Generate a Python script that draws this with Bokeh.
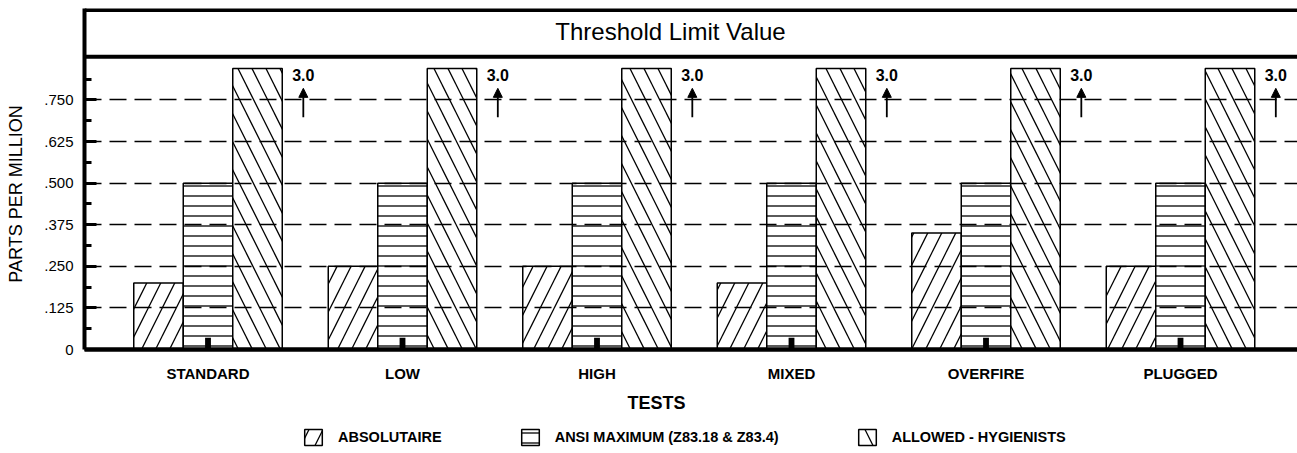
from bokeh.plotting import figure
from bokeh.layouts import column
from bokeh.models import (Range1d, FixedTicker, Span, Label, Legend, LegendItem,
                          Arrow, NormalHead, ColumnDataSource)
from bokeh.core.properties import value
from bokeh.embed import file_html
from bokeh.resources import INLINE

# ---------------- data ----------------
tests = ["STANDARD", "LOW", "HIGH", "MIXED", "OVERFIRE", "PLUGGED"]
absolutaire = [0.20, 0.25, 0.25, 0.20, 0.35, 0.25]
ansi_maximum = [0.50, 0.50, 0.50, 0.50, 0.50, 0.50]
allowed_hygienists = [3.0, 3.0, 3.0, 3.0, 3.0, 3.0]
measured = [0.035, 0.035, 0.035, 0.035, 0.035, 0.035]
y_ticks = [0, 0.125, 0.25, 0.375, 0.5, 0.625, 0.75]
y_tick_labels = ["0", ".125", ".250", ".375", ".500", ".625", ".750"]
y_minor_ticks = [0.0625, 0.1875, 0.3125, 0.4375, 0.5625, 0.6875, 0.8125]
series_names = ["ABSOLUTAIRE", "ANSI MAXIMUM (Z83.18 & Z83.4)", "ALLOWED - HYGIENISTS"]
title_text = "Threshold Limit Value"
y_label = "PARTS PER MILLION"
x_label = "TESTS"

# ---------------- layout / style constants ----------------
FONT = "Liberation Sans"
AXIS_CAP = 0.845          # bars above this are broken off and annotated
BW = 0.2545               # bar width in category units
X0, X1 = -0.635, 5.6015
Y1 = 1.025
xs = list(range(len(tests)))
styles = [dict(hatch_pattern="/", hatch_scale=28),
          dict(hatch_pattern="-", hatch_scale=10),
          dict(hatch_pattern="\\", hatch_scale=28)]
common = dict(fill_color="white", line_color="black", line_width=1.5,
              hatch_weight=1.3, hatch_color="black")

sources = [
    ColumnDataSource(dict(x=[i - BW for i in xs], top=absolutaire)),
    ColumnDataSource(dict(x=xs, top=ansi_maximum)),
    ColumnDataSource(dict(x=[i + BW for i in xs], top=[min(v, AXIS_CAP) for v in allowed_hygienists])),
]

x_range = Range1d(X0, X1)
p = figure(width=1297, height=384, x_range=x_range, y_range=Range1d(0, Y1),
           output_backend="svg", toolbar_location=None,
           min_border_left=84, min_border_right=0, min_border_top=8, min_border_bottom=34)
p.outline_line_color = None

# ---------------- bars ----------------
for src, st in zip(sources, styles):
    p.vbar(x="x", top="top", width=BW, source=src, **common, **st)
p.vbar(x=xs, top=measured, width=0.03, fill_color="black", line_color=None)

# off-scale annotations
over = [i for i, v in enumerate(allowed_hygienists) if v > AXIS_CAP]
p.text(x=[i + 0.49 for i in over], y=[0.824] * len(over),
       text=[f"{allowed_hygienists[i]:.1f}" for i in over],
       text_align="center", text_baseline="middle", text_font=value(FONT),
       text_font_size="16px", text_font_style="bold", text_color="black")
arr_src = ColumnDataSource(dict(x0=[i + 0.49 for i in over], y0=[0.698] * len(over),
                                x1=[i + 0.49 for i in over], y1=[0.785] * len(over)))
p.add_layout(Arrow(x_start="x0", y_start="y0", x_end="x1", y_end="y1", source=arr_src,
                   line_width=1.8, line_color="black",
                   end=NormalHead(size=9, fill_color="black", line_color="black", line_width=1)))

# ---------------- title box ----------------
p.add_layout(Span(location=1.0207, dimension="width", line_color="black", line_width=4))
p.add_layout(Span(location=0.880, dimension="width", line_color="black", line_width=4))
p.add_layout(Label(x=2.378, y=0.956, text=title_text, text_align="center",
                   text_baseline="middle", text_font=FONT, text_font_size="24px",
                   text_color="black"))

# ---------------- axes ----------------
p.yaxis.ticker = FixedTicker(ticks=y_ticks, minor_ticks=y_minor_ticks)
p.yaxis.major_label_overrides = dict(zip(y_ticks, y_tick_labels))
p.yaxis.axis_line_width = 4
p.yaxis.major_tick_in = 12
p.yaxis.major_tick_out = 0
p.yaxis.minor_tick_in = 7
p.yaxis.minor_tick_out = 0
p.yaxis.major_tick_line_width = 3
p.yaxis.minor_tick_line_width = 3
p.yaxis.major_label_standoff = 11
p.yaxis.major_label_text_font = FONT
p.yaxis.major_label_text_font_size = "15px"
p.yaxis.major_label_text_color = "black"
# trailing no-break spaces nudge the centred title down to where the original has it
p.yaxis.axis_label = y_label + "\u00a0" * 6
p.yaxis.axis_label_text_font = FONT
p.yaxis.axis_label_text_font_size = "18px"
p.yaxis.axis_label_text_font_style = "normal"
p.yaxis.axis_label_standoff = 15
p.yaxis.axis_label_text_color = "black"

p.xaxis.ticker = FixedTicker(ticks=xs)
p.xaxis.major_label_overrides = {i: t for i, t in zip(xs, tests)}
p.xaxis.axis_line_width = 4.5
p.xaxis.major_tick_in = 0
p.xaxis.major_tick_out = 0
p.xaxis.minor_tick_line_color = None
p.xaxis.major_label_standoff = 15
p.xaxis.major_label_text_font = FONT
p.xaxis.major_label_text_font_size = "15px"
p.xaxis.major_label_text_font_style = "bold"
p.xaxis.major_label_text_color = "black"

p.xgrid.visible = False
p.ygrid.ticker = FixedTicker(ticks=y_ticks[1:])
p.ygrid.grid_line_color = "black"
p.ygrid.grid_line_width = 1.3
p.ygrid.grid_line_dash = "17 8"
p.ygrid.level = "overlay"

# ---------------- bottom strip: axis title + legend ----------------
p2 = figure(width=1297, height=69, x_range=x_range, y_range=Range1d(0, 69),
            output_backend="svg", toolbar_location=None,
            x_axis_location=None, y_axis_location=None,
            min_border_left=84, min_border_right=0, min_border_top=0, min_border_bottom=0)
p2.outline_line_color = None
p2.grid.visible = False

p2.add_layout(Label(x=2.306, y=50.5, text=x_label, text_align="center",
                    text_baseline="middle", text_font=FONT, text_font_size="18px",
                    text_font_style="bold", text_color="black"))

# legend swatches: same series sources and styles, hidden in this strip
swatches = [p2.vbar(x="x", top="top", width=BW, source=src, visible=False, **common, **st)
            for src, st in zip(sources, styles)]
legend = Legend(items=[LegendItem(label=n, renderers=[r]) for n, r in zip(series_names, swatches)],
                location=(218, 6), orientation="horizontal",
                glyph_width=22, glyph_height=20, label_standoff=14, label_height=20,
                spacing=77, padding=0, margin=0,
                border_line_color=None, background_fill_alpha=0, inactive_fill_alpha=0,
                label_text_font=FONT, label_text_font_size="14.5px",
                label_text_font_style="bold", label_text_color="black",
                label_text_baseline="middle")
p2.add_layout(legend)

open("out.html", "w").write(file_html(column(p, p2, spacing=0), INLINE))
